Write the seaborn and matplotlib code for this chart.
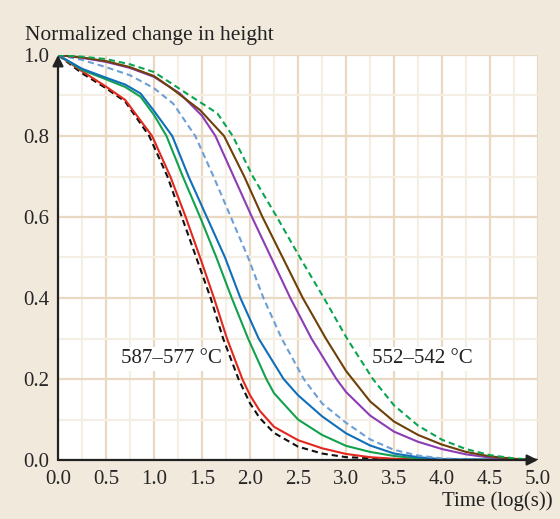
import numpy as np
import pandas as pd
import matplotlib
matplotlib.use('Agg')
import matplotlib.pyplot as plt
import seaborn as sns

# curves, time (log s) vs normalized change in height
black_t = [0, 0.25, 0.5, 0.7, 0.95, 1.14, 1.29, 1.44, 1.59, 1.72, 1.88, 2.0, 2.1, 2.25, 2.5, 2.75, 3.0, 3.5, 4.0, 5.0]
black_h = [1, 0.955, 0.918, 0.885, 0.8, 0.7, 0.6, 0.5, 0.4, 0.3, 0.2, 0.14, 0.104, 0.067, 0.033, 0.016, 0.007, 0.002, 0, 0]

red_t = [0, 0.25, 0.5, 0.7, 0.98, 1.17, 1.33, 1.48, 1.625, 1.76, 1.92, 2.0, 2.1, 2.25, 2.5, 2.75, 3.0, 3.25, 3.5, 4.0, 5.0]
red_h = [1, 0.96, 0.922, 0.889, 0.8, 0.7, 0.6, 0.5, 0.4, 0.3, 0.2, 0.16, 0.122, 0.082, 0.049, 0.029, 0.015, 0.007, 0.003, 0, 0]

green_t = [0, 0.25, 0.5, 0.7, 0.86, 1.0, 1.13, 1.30, 1.48, 1.65, 1.81, 1.98, 2.17, 2.25, 2.5, 2.75, 3.0, 3.25, 3.5, 3.75, 4.0, 5.0]
green_h = [1, 0.963, 0.94, 0.921, 0.897, 0.852, 0.8, 0.7, 0.6, 0.5, 0.4, 0.3, 0.2, 0.165, 0.1, 0.062, 0.035, 0.02, 0.01, 0.004, 0.001, 0]

blue_t = [0, 0.25, 0.5, 0.7, 0.86, 1.0, 1.19, 1.36, 1.55, 1.74, 1.90, 2.09, 2.35, 2.5, 2.75, 3.0, 3.25, 3.5, 3.75, 4.0, 5.0]
blue_h = [1, 0.966, 0.944, 0.927, 0.905, 0.862, 0.8, 0.7, 0.6, 0.5, 0.4, 0.3, 0.2, 0.16, 0.108, 0.066, 0.036, 0.016, 0.007, 0.002, 0]

ltblue_t = [0, 0.25, 0.5, 0.75, 1.0, 1.2, 1.43, 1.62, 1.80, 1.98, 2.14, 2.33, 2.56, 2.75, 3.0, 3.25, 3.5, 3.75, 4.0, 4.5, 5.0]
ltblue_h = [1, 0.988, 0.97, 0.95, 0.918, 0.88, 0.8, 0.7, 0.6, 0.5, 0.4, 0.3, 0.2, 0.14, 0.092, 0.051, 0.025, 0.011, 0.004, 0, 0]

purple_t = [0, 0.25, 0.5, 0.75, 1.0, 1.27, 1.5, 1.64, 1.83, 2.02, 2.22, 2.42, 2.64, 2.9, 3.0, 3.25, 3.5, 3.75, 4.0, 4.25, 4.5, 4.75, 5.0]
purple_h = [1, 0.993, 0.983, 0.968, 0.946, 0.905, 0.85, 0.8, 0.7, 0.6, 0.5, 0.4, 0.3, 0.2, 0.168, 0.11, 0.07, 0.045, 0.027, 0.014, 0.006, 0.002, 0]

brown_t = [0, 0.25, 0.5, 0.75, 1.0, 1.17, 1.48, 1.73, 1.94, 2.13, 2.34, 2.55, 2.79, 3.0, 3.25, 3.5, 3.75, 4.0, 4.25, 4.5, 4.75, 5.0]
brown_h = [1, 0.994, 0.985, 0.97, 0.948, 0.92, 0.864, 0.8, 0.7, 0.6, 0.5, 0.4, 0.3, 0.22, 0.145, 0.095, 0.062, 0.038, 0.02, 0.009, 0.003, 0]

gdash_t = [0, 0.25, 0.5, 0.75, 1.0, 1.34, 1.66, 1.82, 2.03, 2.28, 2.52, 2.77, 3.01, 3.28, 3.5, 3.75, 4.0, 4.25, 4.5, 4.75, 5.0]
gdash_h = [1, 0.996, 0.99, 0.977, 0.958, 0.905, 0.856, 0.8, 0.7, 0.6, 0.5, 0.4, 0.3, 0.2, 0.135, 0.085, 0.05, 0.027, 0.012, 0.004, 0]

x_ticks = [0.0, 0.5, 1.0, 1.5, 2.0, 2.5, 3.0, 3.5, 4.0, 4.5, 5.0]
y_ticks = [0.0, 0.2, 0.4, 0.6, 0.8, 1.0]

sns.set_style('white')
plt.rcParams['font.family'] = ['Liberation Serif', 'DejaVu Serif']
plt.rcParams['font.size'] = 15

fig = plt.figure(figsize=(5.6, 5.19), dpi=100, facecolor='#f2e9dd')
ax = fig.add_axes([58 / 560, 1 - 460 / 519, 480 / 560, 405 / 519])
ax.set_facecolor('white')

curves = [
    (black_t, black_h, '#111111', True),
    (red_t, red_h, '#e2281e', False),
    (green_t, green_h, '#11a14f', False),
    (blue_t, blue_h, '#0f6fb8', False),
    (ltblue_t, ltblue_h, '#6b9fd6', True),
    (purple_t, purple_h, '#8c3cb4', False),
    (brown_t, brown_h, '#6e4008', False),
    (gdash_t, gdash_h, '#0ba552', True),
]
for t, h, c, dashed in curves:
    sns.lineplot(x=t, y=h, color=c, lw=1.5, ax=ax, estimator=None, sort=False)
    if dashed:
        ax.lines[-1].set_dashes([3.0, 1.9])

ax.set_xlim(0, 5)
ax.set_ylim(0, 1)
ax.set_xticks(x_ticks)
ax.set_xticklabels([f'{v:.1f}' for v in x_ticks])
ax.set_yticks(y_ticks)
ax.set_yticklabels([f'{v:.1f}' for v in y_ticks])
ax.set_xticks(np.arange(0.25, 5, 0.5), minor=True)
ax.set_yticks(np.arange(0.1, 1, 0.2), minor=True)
ax.grid(which='major', color='#ead9c2', lw=1.6, zorder=0)
ax.grid(which='minor', color='#f5eee4', lw=1.6, zorder=0)
ax.set_axisbelow(True)
ax.tick_params(which='both', length=0)
ax.tick_params(axis='x', pad=7)
ax.tick_params(axis='y', pad=6)
for s in ax.spines.values():
    s.set_visible(False)

# axis lines with arrow heads
ax.annotate('', xy=(1, 0), xytext=(0, 0), xycoords='axes fraction',
            arrowprops=dict(arrowstyle='-|>', color='#222222', lw=1.6, mutation_scale=16, shrinkA=0, shrinkB=0))
ax.annotate('', xy=(0, 1), xytext=(0, 0), xycoords='axes fraction',
            arrowprops=dict(arrowstyle='-|>', color='#222222', lw=1.6, mutation_scale=16, shrinkA=0, shrinkB=0))

ax.set_xlabel('')
ax.set_ylabel('')
fig.text(25 / 560, 1 - 40 / 519, 'Normalized change in height', ha='left', va='baseline', color='#222222', fontsize=15.5)
fig.text(553 / 560, 1 - 506 / 519, 'Time (log(s))', ha='right', va='baseline', color='#222222')

box = dict(facecolor='white', edgecolor='none', pad=2)
ax.text(1.18, 0.25, '587–577 °C', ha='center', va='center', color='#222222', bbox=box)
ax.text(3.79, 0.25, '552–542 °C', ha='center', va='center', color='#222222', bbox=box)

fig.savefig('out.png', dpi=100, facecolor=fig.get_facecolor())
